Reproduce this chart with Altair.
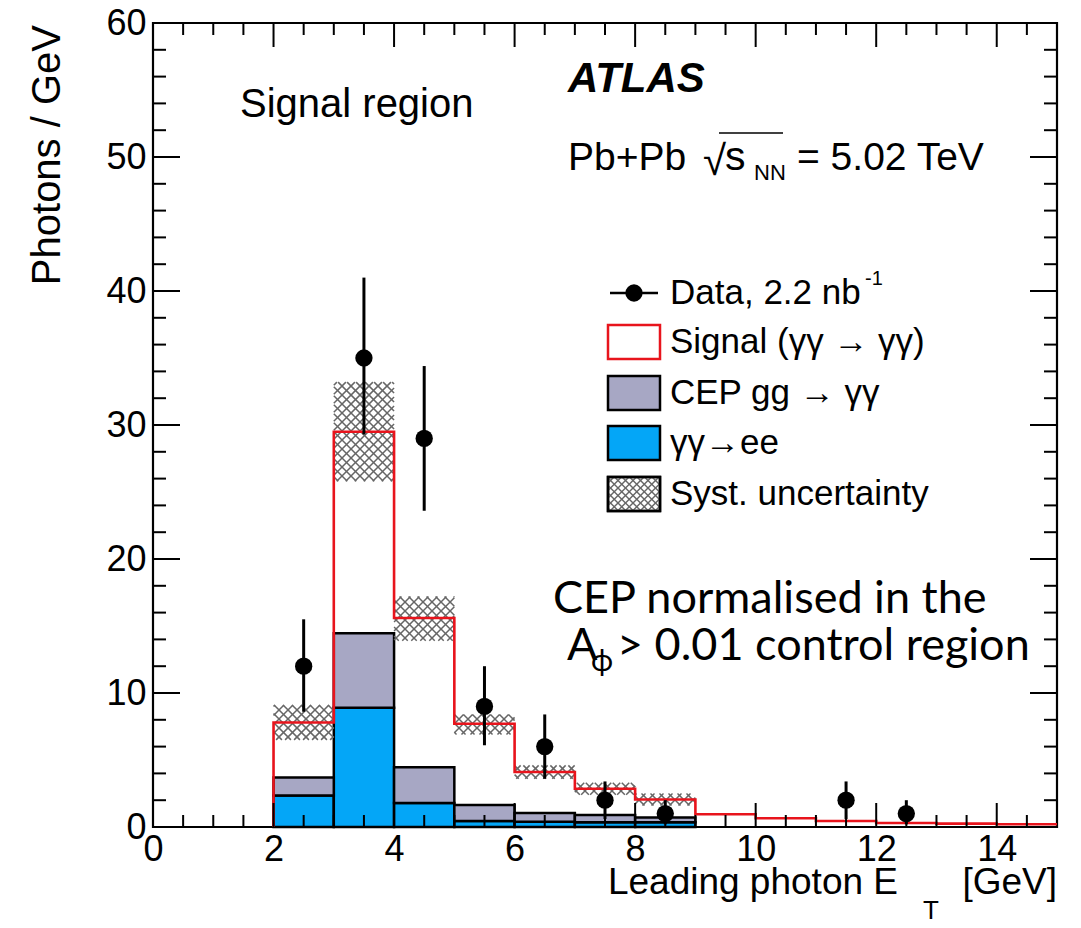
import altair as alt
import pandas as pd

# ---------------- data ----------------
bin_lo = [2, 3, 4, 5, 6, 7, 8, 9, 10, 11, 12, 13, 14]
bin_hi = [3, 4, 5, 6, 7, 8, 9, 10, 11, 12, 13, 14, 15]
signal_total = [7.8, 29.5, 15.6, 7.7, 4.1, 2.85, 2.05, 0.95, 0.65, 0.45, 0.3, 0.25, 0.2]

bg_lo = [2, 3, 4, 5, 6, 7, 8]
bg_hi = [3, 4, 5, 6, 7, 8, 9]
ee_vals = [2.35, 8.9, 1.8, 0.45, 0.4, 0.35, 0.35]
cep_vals = [1.35, 5.55, 2.65, 1.2, 0.65, 0.55, 0.35]
syst_lo = [6.5, 25.8, 13.9, 6.9, 3.6, 2.4, 1.6]
syst_hi = [9.1, 33.2, 17.2, 8.4, 4.6, 3.3, 2.5]

data_x = [2.5, 3.5, 4.5, 5.5, 6.5, 7.5, 8.5, 11.5, 12.5]
data_y = [12, 35, 29, 9, 6, 2, 1, 2, 1]
data_lo = [8.6, 29.3, 23.6, 6.1, 3.6, 0.6, 0.2, 0.6, 0.2]
data_hi = [15.5, 41, 34.4, 12, 8.4, 3.4, 2.0, 3.4, 2.0]

x_major = [0, 2, 4, 6, 8, 10, 12, 14]
x_minor = [v / 2 for v in range(1, 30) if v % 4 != 0]
y_major = [0, 10, 20, 30, 40, 50, 60]
y_minor = [v for v in range(2, 60, 2) if v % 10 != 0]

# ---------------- layout ----------------
W, H = 904, 804
XMAX, YMAX = 15, 60
SX, SY = W / XMAX, H / YMAX
FONT = "Liberation Sans"
RED = "#e8141c"
GRAY = "#a7a7c4"
BLUE = "#04a6f7"
HATCH = "#666666"

xscale = alt.Scale(domain=[0, XMAX], nice=False, zero=False)
yscale = alt.Scale(domain=[0, YMAX], nice=False, zero=False)
xaxis = alt.Axis(values=x_major, labelFontSize=36, labelFont=FONT, labelColor="black",
                 ticks=False, tickSize=0, domain=False, grid=False, labelPadding=5,
                 labelFlush=False, labelOverlap=False, title=None)
yaxis = alt.Axis(values=y_major, labelFontSize=36, labelFont=FONT, labelColor="black",
                 ticks=False, tickSize=0, domain=False, grid=False, labelPadding=7,
                 labelFlush=False, labelOverlap=False, title=None)


def X(f):
    return alt.X(f, type="quantitative", scale=xscale, axis=xaxis, title=None)


def Y(f):
    return alt.Y(f, type="quantitative", scale=yscale, axis=yaxis, title=None)


# ---------------- frames ----------------
bg = pd.DataFrame({"lo": bg_lo, "hi": bg_hi, "ee": ee_vals, "cep": cep_vals,
                   "slo": syst_lo, "shi": syst_hi})
bg["zero"] = 0.0
bg["top"] = bg["ee"] + bg["cep"]

path = [(2, 0.0)]
for lo, hi, v in zip(bin_lo, bin_hi, signal_total):
    path += [(lo, v), (hi, v)]
sig = pd.DataFrame({"x": [p[0] for p in path], "y": [p[1] for p in path],
                    "o": list(range(len(path)))})

pts = pd.DataFrame({"x": data_x, "y": data_y, "lo": data_lo, "hi": data_hi})


def hatch_segments(x0, x1, y0, y1, step=9.0):
    segs = []
    k0 = int((x0 - y1) // step) - 1
    k1 = int((x1 - y0) // step) + 2
    for k in range(k0, k1):
        c = k * step
        a, b = max(x0, y0 + c), min(x1, y1 + c)
        if b > a:
            segs.append((a, a - c, b, b - c))
    k0 = int((x0 + y0) // step) - 1
    k1 = int((x1 + y1) // step) + 2
    for k in range(k0, k1):
        c = k * step
        a, b = max(x0, c - y1), min(x1, c - y0)
        if b > a:
            segs.append((a, c - a, b, c - b))
    return segs


hrows = []
for lo, hi, slo, shi in zip(bg_lo, bg_hi, syst_lo, syst_hi):
    for a, ya, b, yb in hatch_segments(lo * SX, hi * SX, slo * SY, shi * SY):
        hrows.append({"x": a / SX, "y": ya / SY, "x2": b / SX, "y2": yb / SY})
hatch = pd.DataFrame(hrows)

# ---------------- layers ----------------
ee_bar = alt.Chart(bg).mark_rect(fill=BLUE, stroke="black", strokeWidth=2.5).encode(
    x=X("lo"), x2="hi", y=Y("zero"), y2="ee")
cep_bar = alt.Chart(bg).mark_rect(fill=GRAY, stroke="black", strokeWidth=2.5).encode(
    x=X("lo"), x2="hi", y=Y("ee"), y2="top")
hatch_l = alt.Chart(hatch).mark_rule(color=HATCH, strokeWidth=1.5).encode(
    x=X("x"), y=Y("y"), x2="x2", y2="y2")
sig_l = alt.Chart(sig).mark_line(color=RED, strokeWidth=2.6, strokeJoin="miter").encode(
    x=X("x"), y=Y("y"), order="o:Q")
err_l = alt.Chart(pts).mark_rule(color="black", strokeWidth=3).encode(
    x=X("x"), y=Y("lo"), y2="hi")
dot_l = alt.Chart(pts).mark_point(filled=True, color="black", opacity=1, size=300,
                                  shape="circle").encode(x=X("x"), y=Y("y"))


# inward ticks on all four sides
def tick_layer(vals, axis_side, length):
    df = pd.DataFrame({"v": vals})
    m = alt.Chart(df).mark_rule(color="black", strokeWidth=2)
    if axis_side == "bottom":
        return m.encode(x=X("v"), y=alt.value(H), y2=alt.value(H - length))
    if axis_side == "top":
        return m.encode(x=X("v"), y=alt.value(0), y2=alt.value(length))
    if axis_side == "left":
        return m.encode(y=Y("v"), x=alt.value(0), x2=alt.value(length))
    return m.encode(y=Y("v"), x=alt.value(W), x2=alt.value(W - length))


ticks = [tick_layer(x_major, "bottom", 24), tick_layer(x_minor, "bottom", 12),
         tick_layer(x_major, "top", 24), tick_layer(x_minor, "top", 12),
         tick_layer(y_major, "left", 27), tick_layer(y_minor, "left", 13),
         tick_layer(y_major, "right", 27), tick_layer(y_minor, "right", 13)]


def txt(s, x, y, size, font=FONT, align="left", baseline="alphabetic", **kw):
    return alt.Chart(pd.DataFrame({"t": [s]})).mark_text(
        font=font, fontSize=size, align=align, baseline=baseline, color="black", **kw
    ).encode(x=alt.value(x), y=alt.value(y), text="t:N")


texts = [
    txt("Photons / GeV", -93, 2, 40, align="right", angle=270),
    txt("Leading photon E", 745, 871, 37, align="right"),
    txt("T", 770, 896, 26),
    txt("[GeV]", 904, 871, 37, align="right"),
    txt("Signal region", 87, 94, 40),
    txt("ATLAS", 415, 69, 42, fontStyle="italic", fontWeight="bold"),
    txt("Pb+Pb", 415, 147, 39),
    txt("\u221a", 550, 152, 42),
    txt("s", 572, 147, 41),
    txt("NN", 601, 157, 22),
    txt("= 5.02 TeV", 644, 147, 39),
    txt("Data, 2.2 nb", 517, 270, 35, baseline="middle"),
    txt("-1", 712, 256, 20, baseline="middle"),
    txt("Signal (\u03b3\u03b3 \u2192 \u03b3\u03b3)", 517, 319, 35, baseline="middle"),
    txt("CEP gg \u2192 \u03b3\u03b3", 517, 370, 35, baseline="middle"),
    txt("\u03b3\u03b3\u2192ee", 517, 420, 35, baseline="middle"),
    txt("Syst. uncertainty", 517, 471, 35, baseline="middle"),
    txt("CEP normalised in the", 400, 590, 45, font="Lato"),
    txt("A", 414, 637, 45, font="Lato"),
    txt("\u03d5", 438, 648, 30, font="Lato"),
    txt("> 0.01 control region", 464, 637, 45, font="Lato"),
]

# sqrt overline
one = pd.DataFrame({"a": [0]})
overline = alt.Chart(one).mark_rule(color="black", strokeWidth=1.6).encode(
    x=alt.value(566), x2=alt.value(630), y=alt.value(110))

# legend symbols
LX0, LX1 = 455, 507
rows = [270, 319, 370, 420, 471]
leg_line = alt.Chart(one).mark_rule(color="black", strokeWidth=2.5).encode(
    x=alt.value(LX0 + 2), x2=alt.value(LX1 - 2), y=alt.value(rows[0]))
leg_dot = alt.Chart(one).mark_point(filled=True, color="black", opacity=1, size=300,
                                    shape="circle").encode(
    x=alt.value((LX0 + LX1) / 2), y=alt.value(rows[0]))


def leg_box(row, fill, stroke):
    return alt.Chart(one).mark_rect(fill=fill, stroke=stroke, strokeWidth=2.5).encode(
        x=alt.value(LX0), x2=alt.value(LX1), y=alt.value(row - 17), y2=alt.value(row + 17))


lrows = []
for a, ya, b, yb in hatch_segments(LX0, LX1, rows[4] - 17, rows[4] + 17, 7.5):
    lrows.append({"x": a, "y": ya, "x2": b, "y2": yb})
leg_hatch = alt.Chart(pd.DataFrame(lrows)).mark_rule(color=HATCH, strokeWidth=1.4).encode(
    x=alt.X("x:Q", scale=None), y=alt.Y("y:Q", scale=None), x2="x2", y2="y2")

legend = [leg_line, leg_dot,
          leg_box(rows[1], "white", RED),
          leg_box(rows[2], GRAY, "black"),
          leg_box(rows[3], BLUE, "black"),
          leg_box(rows[4], "white", "black"),
          leg_hatch,
          leg_box(rows[4], "transparent", "black")]

chart = alt.layer(
    ee_bar, cep_bar, hatch_l, sig_l, err_l, dot_l, *ticks, *texts, overline, *legend
).properties(
    width=W, height=H,
    padding={"left": 153, "top": 23, "right": 24, "bottom": 101},
    autosize=alt.AutoSizeParams(type="none"),
    background="white",
).configure_view(stroke="black", strokeWidth=2.2)

chart.save("out.html", embed_options={"renderer": "svg", "actions": False})
